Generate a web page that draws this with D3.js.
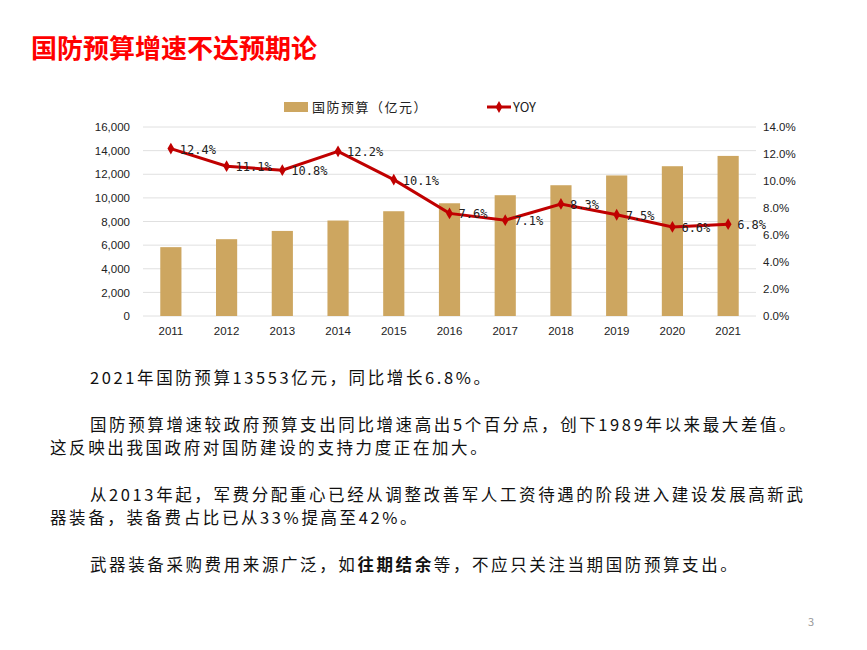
<!DOCTYPE html>
<html><head><meta charset="utf-8">
<script src="https://cdn.jsdelivr.net/npm/d3@7"></script>
<style>body{margin:0;background:#fff;font-family:"Noto Sans CJK SC","Liberation Sans",sans-serif}</style>
</head><body><div id="viz"></div>
<script>
var years = ["2011","2012","2013","2014","2015","2016","2017","2018","2019","2020","2021"];
var budget = [5829,6503,7202,8082,8869,9544,10226,11070,11899,12680,13553];
var yoy = [12.4,11.1,10.8,12.2,10.1,7.6,7.1,8.3,7.5,6.6,6.8];
var leftTicks = [0,2000,4000,6000,8000,10000,12000,14000,16000];
var rightTicks = [0,2,4,6,8,10,12,14];

var barColour = "#CDA660", lineColour = "#C00000";

var svg = d3.select("#viz").append("svg").attr("width",867).attr("height",650);

svg.append("text").attr("x",31).attr("y",58).attr("fill","#FF0000")
  .attr("font-size",26).attr("font-weight","bold").text("国防预算增速不达预期论");

var x = d3.scaleBand().domain(years).range([143,756]).paddingInner(0.62).paddingOuter(0.31);
var yL = d3.scaleLinear().domain([0,16000]).range([316,127]);
var yR = d3.scaleLinear().domain([0,14]).range([316,127]);

svg.append("g").selectAll("line").data(leftTicks).join("line")
  .attr("x1",143).attr("x2",756).attr("y1",d=>yL(d)).attr("y2",d=>yL(d))
  .attr("stroke","#e0e0e0");

var axL = svg.append("g").attr("transform","translate(133,0)")
  .call(d3.axisLeft(yL).tickValues(leftTicks).tickSize(0).tickFormat(d3.format(",")));
var axR = svg.append("g").attr("transform","translate(760,0)")
  .call(d3.axisRight(yR).tickValues(rightTicks).tickSize(0).tickFormat(d=>d.toFixed(1)+"%"));
var axX = svg.append("g").attr("transform","translate(0,324)")
  .call(d3.axisBottom(x).tickSize(0));
[axL,axR,axX].forEach(a=>{a.select(".domain").remove();
  a.selectAll("text").attr("font-size",11.5).attr("fill","#222").attr("font-family","Liberation Sans Narrow, Liberation Sans, sans-serif");});

svg.append("g").selectAll("rect").data(budget).join("rect")
  .attr("x",(d,i)=>x(years[i])).attr("width",x.bandwidth())
  .attr("y",d=>yL(d)).attr("height",d=>316-yL(d)).attr("fill",barColour);

var cx = i=>x(years[i])+x.bandwidth()/2;
svg.append("path").datum(yoy)
  .attr("d",d3.line().x((d,i)=>cx(i)).y(d=>yR(d)))
  .attr("fill","none").attr("stroke",lineColour).attr("stroke-width",3);
svg.append("g").selectAll("path").data(yoy).join("path")
  .attr("transform",(d,i)=>"translate("+cx(i)+","+yR(d)+")")
  .attr("d",d3.symbol(d3.symbolDiamond,40)).attr("fill",lineColour);
svg.append("g").selectAll("text").data(yoy).join("text")
  .attr("x",(d,i)=>cx(i)+9).attr("y",d=>yR(d)+5)
  .attr("font-size",12).attr("fill","#222").attr("font-family","DejaVu Sans Mono, monospace")
  .text(d=>d.toFixed(1)+"%");

// legend
svg.append("rect").attr("x",284).attr("y",102).attr("width",24).attr("height",10).attr("fill",barColour);
svg.append("text").attr("x",312).attr("y",112).attr("font-size",13).attr("letter-spacing",1.5).attr("fill","#222").text("国防预算（亿元）");
svg.append("line").attr("x1",487).attr("x2",511).attr("y1",107).attr("y2",107).attr("stroke",lineColour).attr("stroke-width",3);
svg.append("path").attr("transform","translate(499,107)").attr("d",d3.symbol(d3.symbolDiamond,40)).attr("fill",lineColour);
svg.append("text").attr("x",513).attr("y",112).attr("font-size",13).attr("fill","#222").text("YOY");

var body = [
  [90,384,"2021年国防预算13553亿元，同比增长6.8%。"],
  [90,431,"国防预算增速较政府预算支出同比增速高出5个百分点，创下1989年以来最大差值。"],
  [50,454,"这反映出我国政府对国防建设的支持力度正在加大。"],
  [90,501,"从2013年起，军费分配重心已经从调整改善军人工资待遇的阶段进入建设发展高新武"],
  [50,524,"器装备，装备费占比已从33%提高至42%。"]
];
svg.append("g").selectAll("text").data(body).join("text")
  .attr("x",d=>d[0]).attr("y",d=>d[1]).attr("font-size",16.5).attr("letter-spacing",2.6)
  .attr("fill","#111").text(d=>d[2]);
var last = svg.append("text").attr("x",90).attr("y",571).attr("font-size",16.5).attr("letter-spacing",2.6).attr("fill","#111");
last.append("tspan").text("武器装备采购费用来源广泛，如");
last.append("tspan").attr("font-weight","bold").text("往期结余");
last.append("tspan").text("等，不应只关注当期国防预算支出。");

svg.append("text").attr("x",808).attr("y",626).attr("font-size",11).attr("fill","#999").text("3");
</script></body></html>
